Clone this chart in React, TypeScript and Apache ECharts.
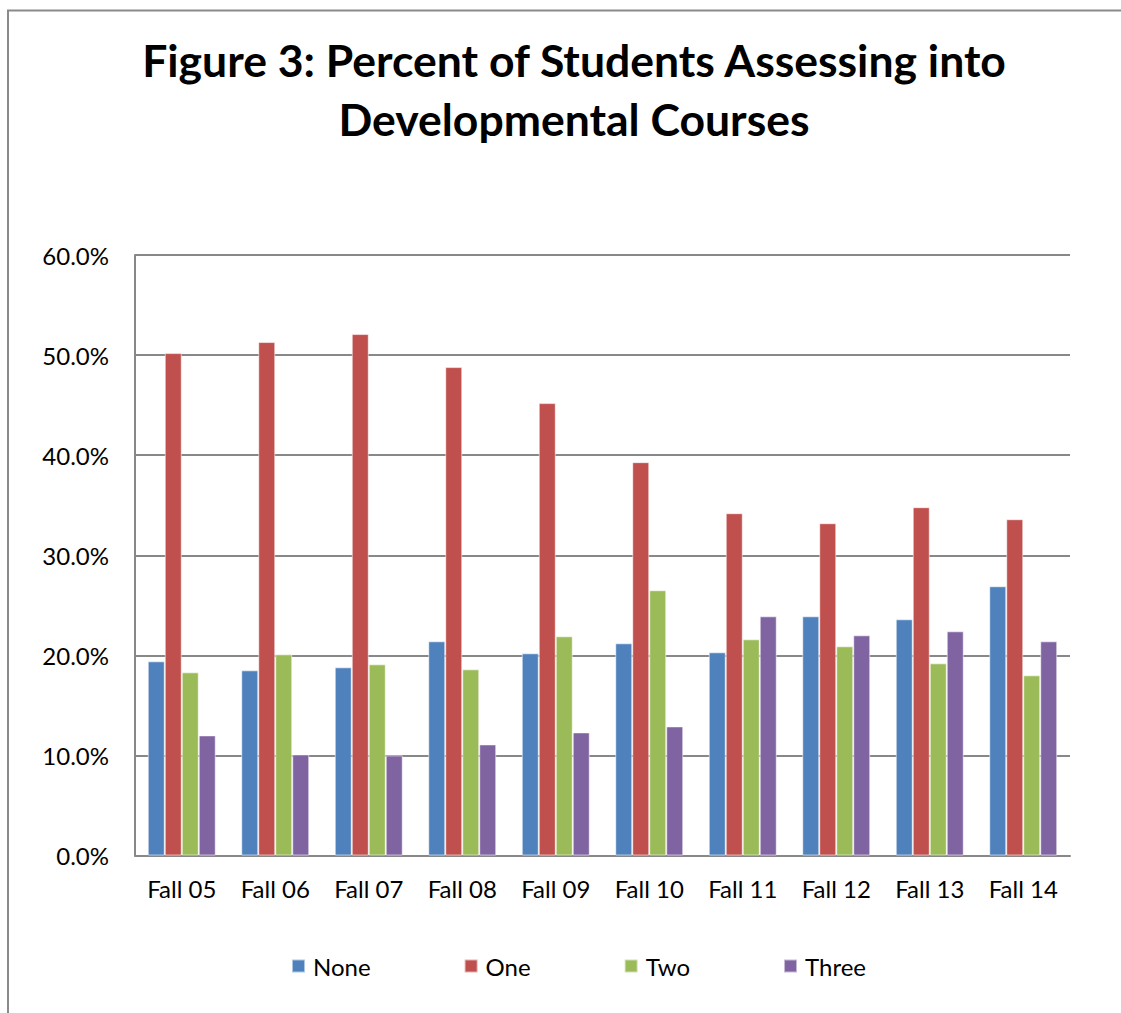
import React, { useEffect, useRef } from "react";
import * as echarts from "echarts";

const categories = ["Fall 05", "Fall 06", "Fall 07", "Fall 08", "Fall 09", "Fall 10", "Fall 11", "Fall 12", "Fall 13", "Fall 14"];
const noneValues = [19.4, 18.5, 18.8, 21.4, 20.2, 21.2, 20.3, 23.9, 23.6, 26.9];
const oneValues = [50.2, 51.3, 52.1, 48.8, 45.2, 39.3, 34.2, 33.2, 34.8, 33.6];
const twoValues = [18.3, 20.1, 19.1, 18.6, 21.9, 26.5, 21.6, 20.9, 19.2, 18.0];
const threeValues = [12.0, 10.1, 10.0, 11.1, 12.3, 12.9, 23.9, 22.0, 22.4, 21.4];
const seriesNames = ["None", "One", "Two", "Three"];
const seriesColors = ["#4F81BD", "#C0504D", "#9BBB59", "#8064A2"];
const titleLines = ["Figure 3: Percent of Students Assessing into", "Developmental Courses"];

const FONT = "Lato, 'Open Sans', sans-serif";

export default function App() {
  const ref = useRef<HTMLDivElement>(null);
  useEffect(() => {
    if (!ref.current) return;
    const chart = echarts.init(ref.current, undefined, { renderer: "svg" });
    const values = [noneValues, oneValues, twoValues, threeValues];
    chart.setOption({
      animation: false,
      backgroundColor: "#ffffff",
      textStyle: { fontFamily: FONT },
      title: {
        text: titleLines.join("\n"),
        left: 569,
        textAlign: "center",
        top: 25,
        textStyle: {
          fontFamily: FONT,
          fontWeight: "bold",
          fontSize: 44.5,
          lineHeight: 59,
          color: "#000000",
        },
      },
      graphic: [
        {
          type: "polyline",
          shape: { points: [[8, 1013], [8, 10.5], [1121, 10.5]] },
          style: { stroke: "#8a8a8a", lineWidth: 2, fill: "none" },
          silent: true,
        },
      ],
      legend: {
        data: seriesNames,
        top: 949,
        left: 286,
        itemWidth: 13,
        itemHeight: 13,
        itemGap: 93,
        icon: "rect",
        textStyle: { fontFamily: FONT, fontSize: 24, color: "#000000", padding: [0, 0, 0, 3] },
      },
      grid: { left: 135, right: 51, top: 255, bottom: 157.5, containLabel: false },
      xAxis: {
        type: "category",
        data: categories,
        axisLine: { show: true, lineStyle: { color: "#888888", width: 2 } },
        axisTick: { show: false },
        axisLabel: { fontFamily: FONT, fontSize: 24, color: "#000000", margin: 21 },
      },
      yAxis: {
        type: "value",
        min: 0,
        max: 60,
        interval: 10,
        axisLine: { show: true, lineStyle: { color: "#888888", width: 2 } },
        axisTick: { show: false },
        splitLine: { show: true, lineStyle: { color: "#888888", width: 2 } },
        axisLabel: {
          fontFamily: FONT,
          fontSize: 24,
          color: "#000000",
          margin: 26,
          formatter: (v: number) => v.toFixed(1) + "%",
        },
      },
      series: seriesNames.map((name, i) => ({
        name,
        type: "bar",
        data: values[i],
        barGap: "0%",
        barCategoryGap: "27.3%",
        itemStyle: { color: seriesColors[i], borderColor: "rgba(255,255,255,0.55)", borderWidth: 1 },
      })),
    });
    return () => chart.dispose();
  }, []);
  return (
    <div
      ref={ref}
      style={{ position: "absolute", left: 0, top: 0, width: 1121, height: 1013 }}
    />
  );
}
